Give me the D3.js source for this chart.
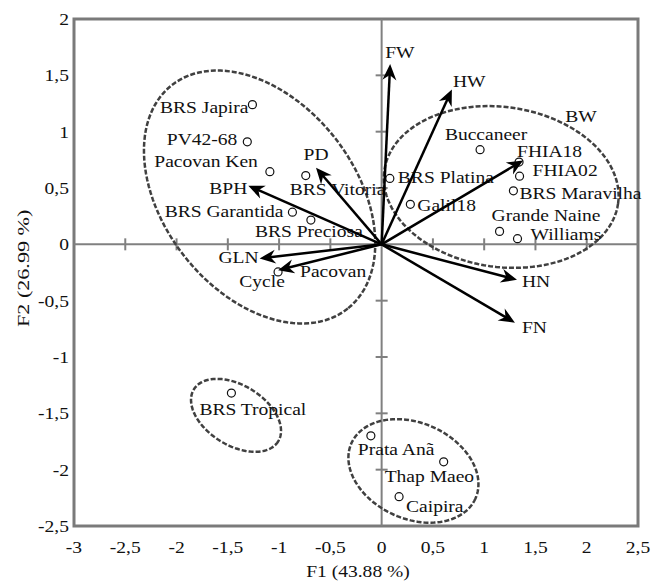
<!DOCTYPE html>
<html>
<head>
<meta charset="utf-8">
<script src="https://cdn.jsdelivr.net/npm/d3@7"></script>
<style>
  html, body { margin: 0; padding: 0; background: #fff; }
  text { font-family: "Liberation Serif", "Times New Roman", serif; fill: #111; }
</style>
</head>
<body>
<div id="chart"></div>
<script>
// cultivar scores (F1, F2)
const cultivars = ["BRS Japira", "PV42-68", "Pacovan Ken", "BRS Garantida", "BRS Preciosa",
    "BRS Vitoria", "Pacovan", "BRS Platina", "Galil18", "Buccaneer", "FHIA18", "FHIA02",
    "BRS Maravilha", "Grande Naine", "Williams", "BRS Tropical", "Prata Anã", "Thap Maeo", "Caipira"];
const cultF1 = [-1.26, -1.31, -1.09, -0.87, -0.69, -0.74, -1.01, 0.08, 0.28, 0.96, 1.34, 1.345,
    1.285, 1.15, 1.325, -1.465, -0.105, 0.605, 0.17];
const cultF2 = [1.24, 0.91, 0.645, 0.285, 0.215, 0.61, -0.245, 0.585, 0.355, 0.84, 0.73, 0.605,
    0.475, 0.115, 0.05, -1.32, -1.70, -1.93, -2.24];

// variable loadings (arrow tips)
const variables = ["FW", "HW", "BW", "PD", "BPH", "GLN", "Cycle", "HN", "FN"];
const varF1 = [0.083, 0.685, 1.38, -0.64, -1.30, -1.19, -1.01, 1.32, 1.30];
const varF2 = [1.60, 1.375, 0.745, 0.68, 0.52, -0.125, -0.23, -0.315, -0.695];

// group ellipses: centre and two conjugate semi-axes, in F1/F2 units
const ellCX = [-1.19, 1.166, -1.42, 0.31];
const ellCY = [0.42, 0.509, -1.518, -2.011];
const ellAX = [0.86, 1.14, 0.411, 0.605];
const ellAY = [-0.99, -0.146, -0.231, -0.245];
const ellBX = [-0.73, -0.108, -0.154, -0.19];
const ellBY = [-0.53, -0.703, -0.227, -0.389];

const xTicks = [-3, -2.5, -2, -1.5, -1, -0.5, 0, 0.5, 1, 1.5, 2, 2.5];
const yTicks = [2, 1.5, 1, 0.5, 0, -0.5, -1, -1.5, -2, -2.5];
const xTitle = "F1 (43.88 %)";
const yTitle = "F2 (26.99 %)";

// label placement (pixels from the mark)
const labelPos = {
    "BRS Japira": ["end", -4, 8], "PV42-68": ["end", -10, 3], "Pacovan Ken": ["end", -12, -5],
    "BRS Garantida": ["end", -9, 5], "BRS Preciosa": ["start", -56, 17], "BRS Vitoria": ["start", -16, 19],
    "Pacovan": ["start", 22, 5], "BRS Platina": ["start", 8, 5], "Galil18": ["start", 7, 7],
    "Buccaneer": ["middle", 6, -10], "FHIA18": ["start", -2, -5], "FHIA02": ["start", 13, 0],
    "BRS Maravilha": ["start", 6, 8], "Grande Naine": ["start", -8, -10], "Williams": ["start", 13, 1],
    "BRS Tropical": ["start", -32, 22], "Prata Anã": ["start", -13, 19], "Thap Maeo": ["start", -59, 20],
    "Caipira": ["start", 7, 15],
    "FW": ["start", -5, -6], "HW": ["start", 1, -2], "BW": ["start", 42, -38], "PD": ["middle", 0, -8],
    "BPH": ["end", -1, 8], "GLN": ["end", -1, 5], "Cycle": ["middle", -16, 17],
    "HN": ["start", 5, 7], "FN": ["start", 7, 10]
};

const width = 665, height = 587;
const fontSize = 17, stretch = 1.15;
const fmt = v => String(v).replace(".", ",");

const x = d3.scaleLinear().domain([-3, 2.5]).range([74, 638]);
const y = d3.scaleLinear().domain([-2.5, 2]).range([526, 19]);

const svg = d3.create("svg")
    .attr("width", width)
    .attr("height", height);

function addText(g, str, px, py, anchor) {
    return g.append("text")
        .attr("transform", `translate(${px},${py}) scale(${stretch},1)`)
        .attr("text-anchor", anchor)
        .attr("font-size", fontSize)
        .text(str);
}

// Frame
svg.append("rect")
    .attr("x", x(-3)).attr("y", y(2))
    .attr("width", x(2.5) - x(-3)).attr("height", y(-2.5) - y(2))
    .attr("fill", "none").attr("stroke", "#7a7a7a").attr("stroke-width", 3);

// Zero lines with cross ticks
const axes = svg.append("g").attr("stroke", "#808080").attr("stroke-width", 2);
axes.append("line").attr("x1", x(-3)).attr("x2", x(2.5)).attr("y1", y(0)).attr("y2", y(0));
axes.append("line").attr("x1", x(0)).attr("x2", x(0)).attr("y1", y(2)).attr("y2", y(-2.5));
axes.selectAll(".xt").data(xTicks.filter(d => d > -3 && d < 2.5 && d !== 0))
    .enter().append("line")
    .attr("x1", d => x(d)).attr("x2", d => x(d))
    .attr("y1", y(0) - 6).attr("y2", y(0) + 6);
axes.selectAll(".yt").data(yTicks.filter(d => d > -2.5 && d < 2 && d !== 0))
    .enter().append("line")
    .attr("y1", d => y(d)).attr("y2", d => y(d))
    .attr("x1", x(0) - 6).attr("x2", x(0) + 6);

// Tick labels
const tl = svg.append("g");
xTicks.forEach(d => addText(tl, fmt(d), x(d), 553, "middle"));
yTicks.forEach(d => addText(tl, fmt(d), 69, y(d) + 6, "end"));

// Axis titles
addText(svg, xTitle, 358, 577, "middle");
svg.append("text")
    .attr("transform", `translate(29,${y(0) + 24}) rotate(-90) scale(1.3,1)`)
    .attr("text-anchor", "middle")
    .attr("font-size", fontSize)
    .text(yTitle);

// Ellipses
const line = d3.line();
const ellipses = svg.append("g");
ellCX.forEach((cx, i) => {
    const pts = d3.range(0, 361, 3).map(a => {
        const t = a * Math.PI / 180;
        return [x(cx + ellAX[i] * Math.cos(t) + ellBX[i] * Math.sin(t)),
                y(ellCY[i] + ellAY[i] * Math.cos(t) + ellBY[i] * Math.sin(t))];
    });
    ellipses.append("path")
        .attr("d", line(pts) + "Z")
        .attr("fill", "none")
        .attr("stroke", "#404040")
        .attr("stroke-width", 2.5)
        .attr("stroke-dasharray", "5,2");
});

// Cultivar points
const pts = svg.append("g");
cultivars.forEach((name, i) => {
    pts.append("circle")
        .attr("cx", x(cultF1[i])).attr("cy", y(cultF2[i]))
        .attr("r", 4)
        .attr("fill", "#fff").attr("stroke", "#111").attr("stroke-width", 1.2);
    const p = labelPos[name];
    addText(pts, name, x(cultF1[i]) + p[1], y(cultF2[i]) + p[2], p[0]);
});

// Variable arrows
const arrows = svg.append("g");
const x0 = x(0), y0 = y(0);
variables.forEach((name, i) => {
    const tx = x(varF1[i]), ty = y(varF2[i]);
    const ang = Math.atan2(ty - y0, tx - x0);
    const len = Math.hypot(tx - x0, ty - y0);
    arrows.append("line")
        .attr("x1", x0).attr("y1", y0)
        .attr("x2", x0 + Math.cos(ang) * (len - 8))
        .attr("y2", y0 + Math.sin(ang) * (len - 8))
        .attr("stroke", "#000").attr("stroke-width", 2.5);
    arrows.append("path")
        .attr("d", "M0,0 L-16,-7 L-11,0 L-16,7 Z")
        .attr("transform", `translate(${tx},${ty}) rotate(${ang * 180 / Math.PI})`)
        .attr("fill", "#000");
    const p = labelPos[name];
    addText(arrows, name, tx + p[1], ty + p[2], p[0]);
});

document.getElementById("chart").appendChild(svg.node());
</script>
</body>
</html>
